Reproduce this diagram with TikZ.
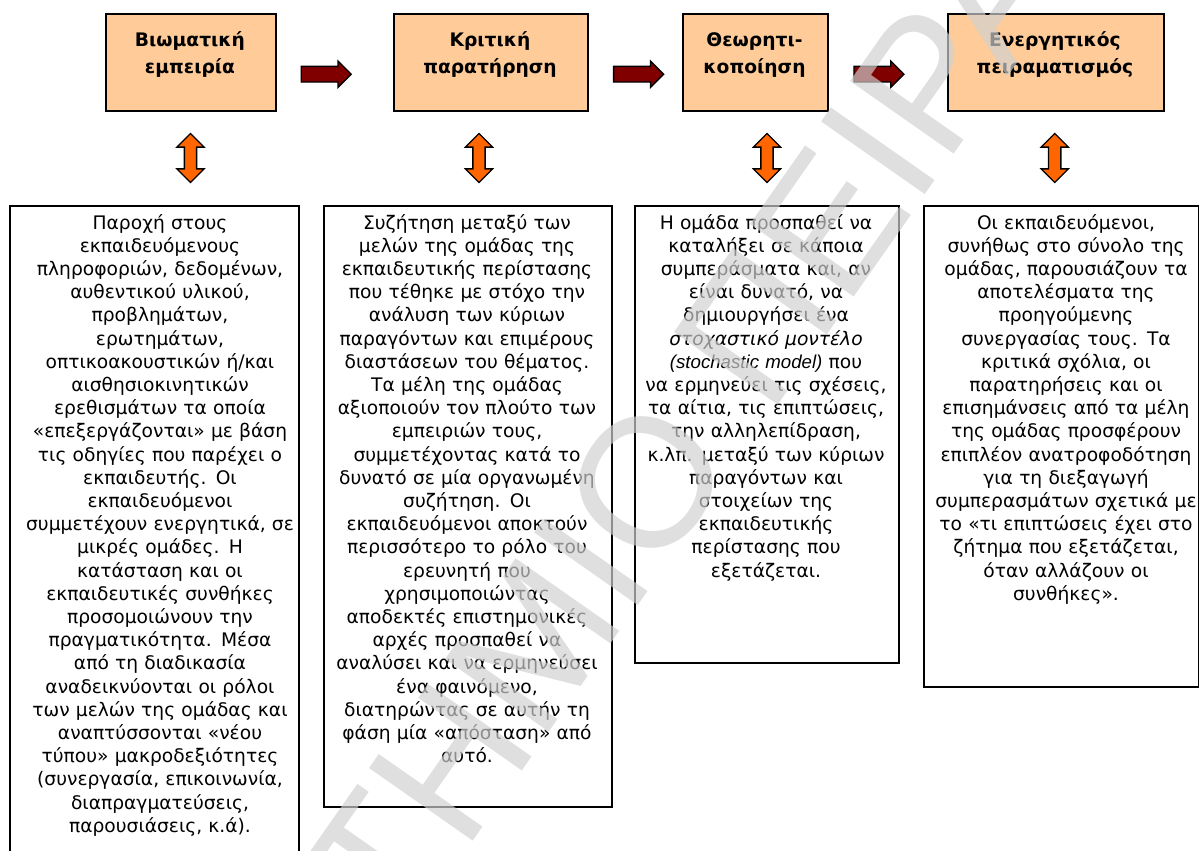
\documentclass[tikz,border=0pt]{standalone}
\usepackage{fontspec}
\setmainfont{DejaVu Sans}
\newfontfamily\arialfont{Liberation Sans}
\usetikzlibrary{shapes.arrows,calc}

\definecolor{peach}{HTML}{FFCC99}
\definecolor{darkred}{HTML}{800000}
\definecolor{orangefill}{HTML}{FF6600}
\definecolor{wmgray}{rgb}{0.82,0.82,0.82}

\begin{document}
\begin{tikzpicture}[x=0.75pt,y=-0.75pt,
  stage/.style={draw=black, line width=1.2pt, fill=peach, anchor=north west,
    inner sep=0pt},
  heading/.style={anchor=base, align=center, text width=200pt, inner sep=0pt,
    font=\bfseries\fontsize{14}{19.9}\selectfont},
  descbox/.style={draw=black, line width=1.2pt, fill=white, anchor=north west,
    inner sep=0pt},
  desctext/.style={anchor=base, align=center, text width=230pt, inner sep=0pt,
    font=\fontsize{14}{17.4}\selectfont},
  flow/.style={single arrow, draw=black, line width=1pt, fill=darkred,
    inner sep=5.36pt, single arrow head extend=4pt, single arrow tip angle=90,
    single arrow head indent=0pt, minimum height=37.5pt},
  link/.style={double arrow, shape border rotate=90, draw=black, line width=1pt,
    fill=orangefill, inner sep=4.1pt, double arrow head extend=5.6pt,
    double arrow tip angle=90, double arrow head indent=0pt,
    minimum height=36.75pt},
  watermark/.style={rotate=55, inner sep=0pt, text=wmgray,
    opacity=0.68, font=\arialfont\fontsize{138}{138}\selectfont}
]
\useasboundingbox (0,0) rectangle (1199,850);
\fill[white] (0,0) rectangle (1199,850);

% stage boxes
\node[stage, minimum width=127.5pt, minimum height=72.75pt] (s1) at (105,13) {};
\node[stage, minimum width=145.5pt, minimum height=72.75pt] (s2) at (393,13) {};
\node[stage, minimum width=108.75pt, minimum height=72.75pt] (s3) at (682,13) {};
\node[stage, minimum width=162pt, minimum height=72.75pt] (s4) at (947,13) {};

\node[heading] (h1) at (190,46.5) {Βιωματική\\εμπειρία};
\node[heading] (h2) at (490,46.5) {Κριτική\\παρατήρηση};
\node[heading] (h3) at (754.5,46.5) {Θεωρητι-\\κοποίηση};
\node[heading] (h4) at (1055,46.5) {Ενεργητικός\\πειραματισμός};

% flow arrows between stages
\node[flow] (f1) at (322.3,74.2) {};
\node[flow] (f2) at (634.7,74.2) {};
\node[flow] (f3) at (875,74.2) {};

% two-way arrows between stages and descriptions
\node[link] (l1) at (190.5,158) {};
\node[link] (l2) at (479,158) {};
\node[link] (l3) at (767,158) {};
\node[link] (l4) at (1054.7,158) {};

% description boxes
\node[descbox, minimum width=216.75pt, minimum height=491.25pt] (d1) at (9,205) {};
\node[descbox, minimum width=216pt, minimum height=450.75pt] (d2) at (323,205) {};
\node[descbox, minimum width=198pt, minimum height=342.75pt] (d3) at (634,205) {};
\node[descbox, minimum width=206.25pt, minimum height=360.75pt] (d4) at (923,205) {};

\node[desctext] (t1) at (160,229) {Παροχή στους\\
εκπαιδευόμενους\\
πληροφοριών, δεδομένων,\\
αυθεντικού υλικού,\\
προβλημάτων,\\
ερωτημάτων,\\
οπτικοακουστικών ή/και\\
αισθησιοκινητικών\\
ερεθισμάτων τα οποία\\
«επεξεργάζονται» με βάση\\
τις οδηγίες που παρέχει ο\\
εκπαιδευτής. Οι\\
εκπαιδευόμενοι\\
συμμετέχουν ενεργητικά, σε\\
μικρές ομάδες. Η\\
κατάσταση και οι\\
εκπαιδευτικές συνθήκες\\
προσομοιώνουν την\\
πραγματικότητα. Μέσα\\
από τη διαδικασία\\
αναδεικνύονται οι ρόλοι\\
των μελών της ομάδας και\\
αναπτύσσονται «νέου\\
τύπου» μακροδεξιότητες\\
(συνεργασία, επικοινωνία,\\
διαπραγματεύσεις,\\
παρουσιάσεις, κ.ά).};

\node[desctext] (t2) at (467,229) {Συζήτηση μεταξύ των\\
μελών της ομάδας της\\
εκπαιδευτικής περίστασης\\
που τέθηκε με στόχο την\\
ανάλυση των κύριων\\
παραγόντων και επιμέρους\\
διαστάσεων του θέματος.\\
Τα μέλη της ομάδας\\
αξιοποιούν τον πλούτο των\\
εμπειριών τους,\\
συμμετέχοντας κατά το\\
δυνατό σε μία οργανωμένη\\
συζήτηση. Οι\\
εκπαιδευόμενοι αποκτούν\\
περισσότερο το ρόλο του\\
ερευνητή που\\
χρησιμοποιώντας\\
αποδεκτές επιστημονικές\\
αρχές προσπαθεί να\\
αναλύσει και να ερμηνεύσει\\
ένα φαινόμενο,\\
διατηρώντας σε αυτήν τη\\
φάση μία «απόσταση» από\\
αυτό.};

\node[desctext] (t3) at (766,229) {Η ομάδα προσπαθεί να\\
καταλήξει σε κάποια\\
συμπεράσματα και, αν\\
είναι δυνατό, να\\
δημιουργήσει ένα\\
\textit{στοχαστικό μοντέλο}\\
{\arialfont\itshape (stochastic model)} που\\
να ερμηνεύει τις σχέσεις,\\
τα αίτια, τις επιπτώσεις,\\
την αλληλεπίδραση,\\
κ.λπ. μεταξύ των κύριων\\
παραγόντων και\\
στοιχείων της\\
εκπαιδευτικής\\
περίστασης που\\
εξετάζεται.};

\node[desctext] (t4) at (1066,229) {Οι εκπαιδευόμενοι,\\
συνήθως στο σύνολο της\\
ομάδας, παρουσιάζουν τα\\
αποτελέσματα της\\
προηγούμενης\\
συνεργασίας τους. Τα\\
κριτικά σχόλια, οι\\
παρατηρήσεις και οι\\
επισημάνσεις από τα μέλη\\
της ομάδας προσφέρουν\\
επιπλέον ανατροφοδότηση\\
για τη διεξαγωγή\\
συμπερασμάτων σχετικά με\\
το «τι επιπτώσεις έχει στο\\
ζήτημα που εξετάζεται,\\
όταν αλλάζουν οι\\
συνθήκες».};

% diagonal watermark over the page, in two words
\coordinate (wmgap) at (740,460);
\node[watermark, anchor=base east] (wm1) at (wmgap) {ΠΑΝΕΠΙΣΤΗΜΙΟ};
\node[watermark, anchor=base west] (wm2) at ($(wmgap)+(29.2,-41.8)$) {ΠΕΙΡΑΙΩΣ};
\end{tikzpicture}
\end{document}
